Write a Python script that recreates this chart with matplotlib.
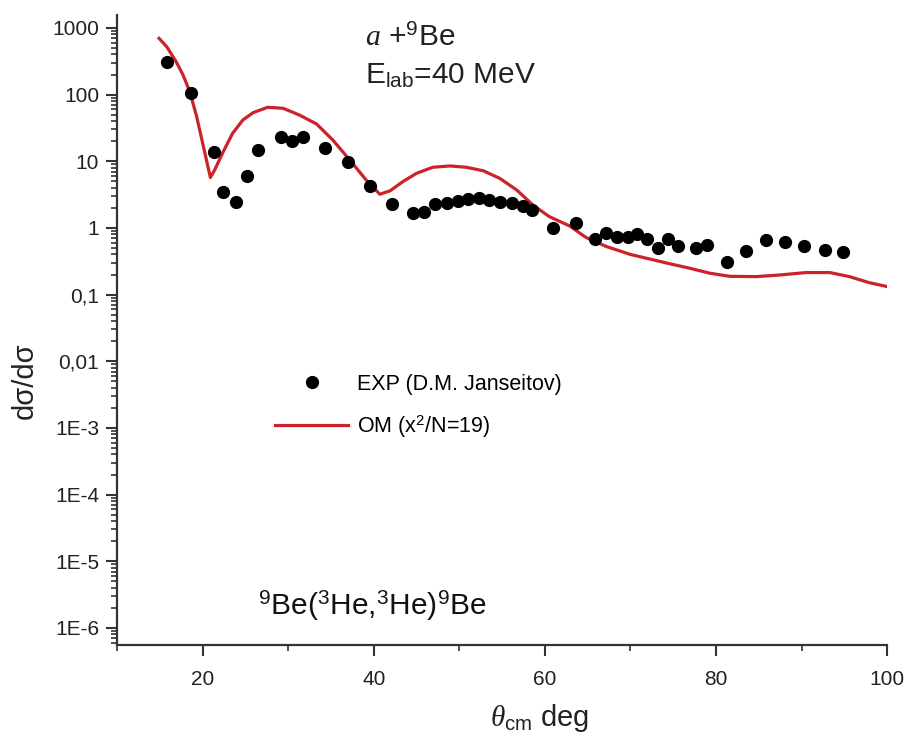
import matplotlib
matplotlib.use("Agg")
import matplotlib.pyplot as plt
from matplotlib.lines import Line2D
from matplotlib.ticker import LogLocator, NullFormatter

plt.rcParams['font.family'] = ['Liberation Sans', 'DejaVu Sans']
plt.rcParams['mathtext.fontset'] = 'custom'
plt.rcParams['mathtext.rm'] = 'Liberation Sans'
plt.rcParams['mathtext.it'] = 'Liberation Serif:italic'
plt.rcParams['mathtext.bf'] = 'Liberation Sans:bold'

# experimental points (D.M. Janseitov)
exp_theta = [15.8, 18.6, 21.3, 22.4, 23.9, 25.2, 26.5, 29.1, 30.4, 31.7,
             34.3, 37.0, 39.5, 42.1, 44.6, 45.9, 47.2, 48.5, 49.8, 51.0,
             52.3, 53.5, 54.8, 56.1, 57.4, 58.5, 60.9, 63.6, 65.9, 67.2,
             68.4, 69.7, 70.8, 71.9, 73.2, 74.4, 75.5, 77.7, 79.0, 81.3,
             83.5, 85.9, 88.1, 90.3, 92.7, 94.8]
exp_sigma = [311, 104, 13.9, 3.4, 2.43, 6.0, 14.8, 22.9, 20.4, 22.9,
             16.0, 9.9, 4.3, 2.29, 1.70, 1.75, 2.29, 2.35, 2.57, 2.69,
             2.79, 2.63, 2.48, 2.35, 2.14, 1.86, 0.99, 1.20, 0.68, 0.83,
             0.73, 0.73, 0.80, 0.68, 0.50, 0.68, 0.54, 0.50, 0.56, 0.31,
             0.45, 0.66, 0.61, 0.54, 0.47, 0.43]

# optical model curve
om_theta = [14.9, 15.8, 16.9, 17.7, 18.5, 19.3, 20.0, 20.9, 21.4, 22.4,
            23.5, 24.7, 25.9, 27.6, 29.4, 31.3, 33.3, 35.2, 37.2, 39.1,
            40.7, 41.9, 43.4, 45.0, 46.9, 48.9, 50.8, 52.8, 54.7, 56.7,
            58.6, 60.5, 62.9, 64.8, 67.2, 70.0, 72.2, 74.6, 76.9, 79.3,
            81.6, 84.7, 87.5, 90.5, 93.3, 95.6, 97.9, 100.0]
om_sigma = [698, 522, 311, 197, 110, 46.6, 18.6, 5.7, 7.4, 13.9,
            26.3, 41.6, 53.6, 64.5, 62.3, 49.4, 36.3, 20.9, 10.4, 5.25,
            3.2, 3.6, 4.95, 6.6, 8.13, 8.5, 8.13, 7.2, 5.56, 3.71,
            2.21, 1.48, 1.07, 0.72, 0.525, 0.40, 0.343, 0.29, 0.249, 0.209,
            0.188, 0.186, 0.197, 0.214, 0.214, 0.186, 0.151, 0.132]

ytick_vals = [1e3, 1e2, 1e1, 1, 0.1, 0.01, 1e-3, 1e-4, 1e-5, 1e-6]
ytick_labels = ['1000', '100', '10', '1', '0,1', '0,01', '1E-3', '1E-4', '1E-5', '1E-6']
xtick_vals = [20, 40, 60, 80, 100]

red = '#cc2229'
axcol = '#333333'

fig = plt.figure(figsize=(9.08, 7.43), dpi=100)
ax = fig.add_axes([0.129, 0.132, 0.848, 0.848])

ax.plot(om_theta, om_sigma, color=red, lw=2.3, zorder=2)
ax.plot(exp_theta, exp_sigma, 'o', color='black', ms=8.5, zorder=3)

ax.set_yscale('log')
ax.set_xlim(10, 100)
ax.set_ylim(5.56e-7, 1570)
ax.set_yticks(ytick_vals, ytick_labels)
ax.yaxis.set_minor_locator(LogLocator(base=10, subs=range(2, 10), numticks=100))
ax.yaxis.set_minor_formatter(NullFormatter())
ax.set_xticks(xtick_vals)
ax.set_xticks([10, 30, 50, 70, 90], minor=True)

for s in ['top', 'right']:
    ax.spines[s].set_visible(False)
for s in ['left', 'bottom']:
    ax.spines[s].set_linewidth(1.6)
    ax.spines[s].set_color(axcol)

ax.tick_params(which='major', direction='out', length=8, width=1.5, color=axcol,
               labelsize=15, labelcolor='#222222')
ax.tick_params(which='minor', direction='out', length=4.5, width=1.2, color=axcol)
ax.tick_params(axis='x', which='major', pad=10)
ax.tick_params(axis='y', which='major', pad=5)

ax.set_ylabel('dσ/dσ', fontsize=21, color='#222222')
ax.yaxis.set_label_coords(-0.102, 0.42)
ax.set_xlabel(r'$\theta_{\mathrm{cm}}$ deg', fontsize=21, color='#222222')
ax.xaxis.set_label_coords(0.549, -0.09)

ax.text(0.322, 0.985, r'$\mathit{a}$ +$^{9}$Be', transform=ax.transAxes,
        fontsize=21.5, va='top', color='#222222')
ax.text(0.322, 0.925, r'E$_{\mathrm{lab}}$=40 MeV', transform=ax.transAxes,
        fontsize=21.5, va='top', color='#222222')
ax.text(0.183, 0.062, r'$^{9}$Be($^{3}$He,$^{3}$He)$^{9}$Be', transform=ax.transAxes,
        fontsize=21.5, va='center', color='#111111')

handles = [Line2D([], [], ls='none', marker='o', color='black', ms=8.5),
           Line2D([], [], color=red, lw=2.3)]
labels = ['EXP (D.M. Janseitov)', r'OM (x$^{2}$/N=19)']
ax.legend(handles, labels, loc='upper left', bbox_to_anchor=(0.205, 0.43),
          frameon=False, fontsize=15.5, handlelength=3.4, handletextpad=0.4,
          labelspacing=0.85, borderpad=0, borderaxespad=0, numpoints=1)

fig.savefig('out.png', dpi=100)
